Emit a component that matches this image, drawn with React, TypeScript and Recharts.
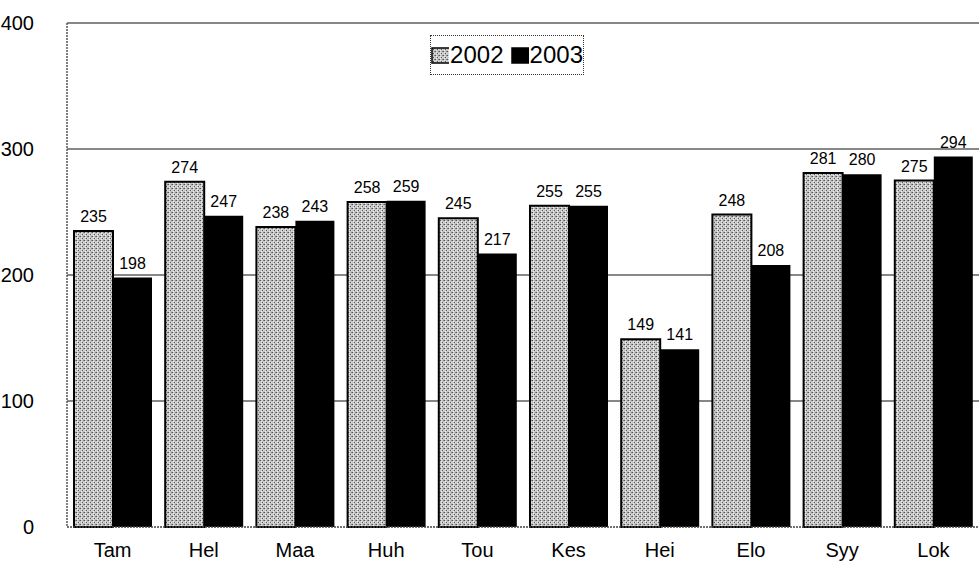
import { BarChart, Bar, XAxis, YAxis, CartesianGrid, Legend, LabelList } from "recharts";

const categories = ["Tam", "Hel", "Maa", "Huh", "Tou", "Kes", "Hei", "Elo", "Syy", "Lok"];
const values2002 = [235, 274, 238, 258, 245, 255, 149, 248, 281, 275];
const values2003 = [198, 247, 243, 259, 217, 255, 141, 208, 280, 294];
const yTicks = [0, 100, 200, 300, 400];
const seriesNames = ["2002", "2003"];

const data = categories.map((c, i) => ({
  name: c,
  y2002: values2002[i],
  y2003: values2003[i],
}));

const FONT = "'Liberation Sans Narrow', 'Liberation Sans', Arial, sans-serif";
const AXIS_FONT = "'Liberation Sans', Arial, sans-serif";

// gray stipple like the old print fill
function Stipple({ id }: { id: string }) {
  return (
    <pattern id={id} width={4} height={4} patternUnits="userSpaceOnUse">
      <rect width={4} height={4} fill="#c4c4c4" />
      <rect x={0} y={0} width={1} height={1} fill="#555" />
      <rect x={2} y={2} width={1} height={1} fill="#555" />
      <rect x={3} y={0} width={1} height={1} fill="#888" />
      <rect x={1} y={3} width={1} height={1} fill="#eee" />
      <rect x={1} y={1} width={1} height={1} fill="#eee" />
      <rect x={3} y={2} width={1} height={1} fill="#e0e0e0" />
    </pattern>
  );
}

function LegendBox() {
  const swatch = (fill: string) => (
    <svg width={24} height={17} style={{ display: "block" }}>
      <defs>
        <Stipple id="legStipple" />
      </defs>
      <rect x={1} y={1} width={22} height={15} fill={fill} stroke="#000" strokeWidth={1.5} />
    </svg>
  );
  return (
    <div
      style={{
        border: "1.5px dotted #333",
        width: 152,
        height: 38,
        display: "flex",
        alignItems: "center",
        justifyContent: "center",
        gap: 1,
        fontFamily: AXIS_FONT,
        fontSize: 24,
        color: "#000",
        background: "#fff",
      }}
    >
      {swatch("url(#legStipple)")}
      <span style={{ marginRight: 6 }}>{seriesNames[0]}</span>
      {swatch("#000")}
      <span>{seriesNames[1]}</span>
    </div>
  );
}

export default function App() {
  return (
    <div style={{ position: "absolute", left: 0, top: 0, background: "#fff", width: 979, height: 571 }}>
      <BarChart
        width={979}
        height={571}
        data={data}
        margin={{ top: 23, right: 0, bottom: 0, left: 0 }}
        barCategoryGap={7}
        barGap={0}
      >
        <defs>
          <Stipple id="stipple" />
        </defs>
        <CartesianGrid
          vertical={false}
          horizontalValues={[100, 200, 300, 400]}
          stroke="#111"
          strokeWidth={1.2}
        />
        <XAxis
          dataKey="name"
          height={44}
          tickSize={0}
          tickMargin={16}
          axisLine={{ stroke: "#444", strokeDasharray: "2 1", strokeWidth: 1.5 }}
          tick={{ fill: "#000", fontSize: 20, fontFamily: AXIS_FONT }}
        />
        <YAxis
          width={67}
          domain={[0, 400]}
          ticks={yTicks}
          tickSize={0}
          tickMargin={33}
          axisLine={{ stroke: "#555", strokeDasharray: "2 1", strokeWidth: 1.5 }}
          tick={{ fill: "#000", fontSize: 20, fontFamily: AXIS_FONT }}
        />
        <Legend
          layout="horizontal"
          verticalAlign="middle"
          align="center"
          wrapperStyle={{ position: "absolute", left: 430, top: 35, width: "auto" }}
          content={() => <LegendBox />}
        />
        <Bar
          dataKey="y2002"
          name={seriesNames[0]}
          fill="url(#stipple)"
          stroke="#000"
          strokeWidth={2}
          isAnimationActive={false}
        >
          <LabelList dataKey="y2002" position="top" offset={9} fill="#000" fontSize={16} fontFamily={FONT} />
        </Bar>
        <Bar dataKey="y2003" name={seriesNames[1]} fill="#000" isAnimationActive={false}>
          <LabelList dataKey="y2003" position="top" offset={9} fill="#000" fontSize={16} fontFamily={FONT} />
        </Bar>
      </BarChart>
    </div>
  );
}
